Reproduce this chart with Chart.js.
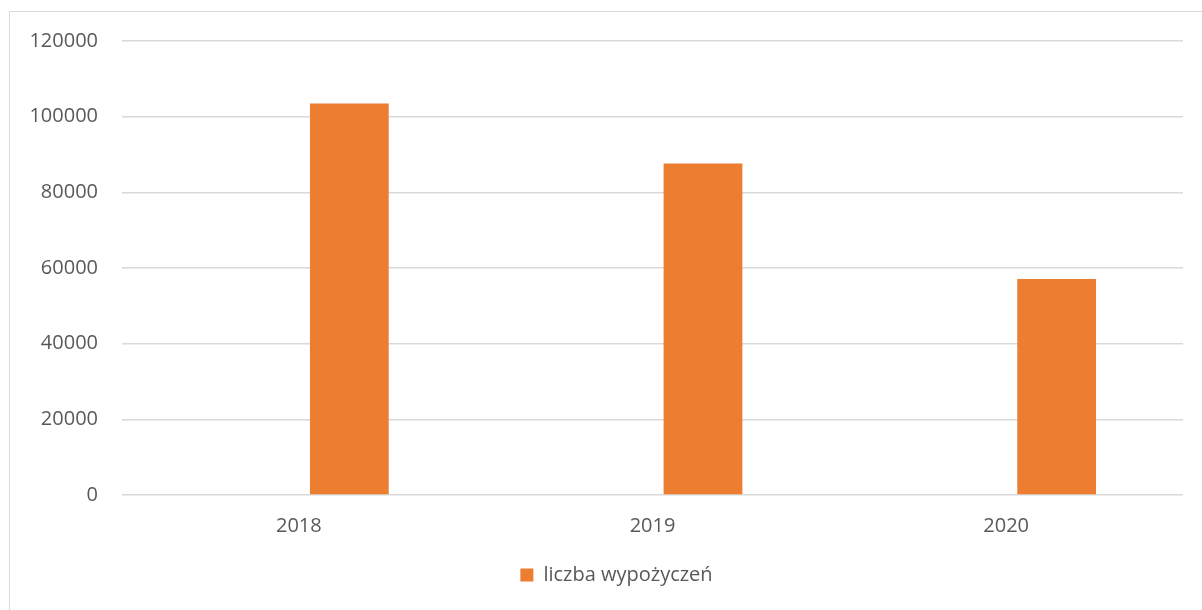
<!DOCTYPE html>
<html>
<head>
<meta charset="utf-8">
<script src="https://cdn.jsdelivr.net/npm/chart.js@4"></script>
<style>
  html, body { margin: 0; padding: 0; background: #fff; overflow: hidden; }
  #frame { position: absolute; left: 9px; top: 11px; width: 1400px; height: 800px; border: 1px solid #d9d9d9; box-sizing: border-box; }
  #wrap { position: absolute; left: 0; top: 0; width: 1202px; height: 610px; }
</style>
</head>
<body>
<div id="frame"></div>
<div id="wrap"><canvas id="c" width="1202" height="610"></canvas></div>
<script>
const categories = ['2018', '2019', '2020'];
const hiddenSeries = [null, null, null];
const loans = [103500, 87600, 57100];
const seriesName = 'liczba wypożyczeń';
const yTicks = [0, 20000, 40000, 60000, 80000, 100000, 120000];

const FONT = "'Open Sans', sans-serif";
const TXT = '#595959';

const shiftLegend = {
  id: 'shiftLegend',
  afterLayout(chart) {
    const lg = chart.legend;
    if (lg) { lg.left += 25; lg.right += 25; }
  }
};

new Chart(document.getElementById('c'), {
  type: 'bar',
  data: {
    labels: categories,
    datasets: [
      { label: '', data: hiddenSeries, backgroundColor: 'rgba(0,0,0,0)' },
      { label: seriesName, data: loans, backgroundColor: '#ED7D31', borderWidth: 0 }
    ]
  },
  plugins: [shiftLegend],
  options: {
    responsive: false,
    animation: false,
    devicePixelRatio: 1,
    layout: { padding: { left: 0, right: 19, top: 41, bottom: 15 } },
    datasets: { bar: { categoryPercentage: 0.571, barPercentage: 0.78 } },
    plugins: {
      tooltip: { enabled: false },
      legend: {
        position: 'bottom',
        labels: {
          filter: (item) => item.text !== '',
          boxWidth: 13, boxHeight: 13,
          color: TXT,
          font: { family: FONT, size: 20 },
          padding: 14
        }
      }
    },
    scales: {
      x: {
        grid: { display: false },
        border: { display: false },
        ticks: { color: TXT, font: { family: FONT, size: 20 }, padding: 11 },
        afterFit: (s) => { s.height = 56; }
      },
      y: {
        min: 0, max: 120000,
        afterBuildTicks: (s) => { s.ticks = yTicks.map(v => ({ value: v })); },
        grid: { color: '#d9d9d9', lineWidth: 1.5, drawTicks: false },
        border: { display: false },
        ticks: { color: TXT, font: { family: FONT, size: 20 }, padding: 24, callback: (v) => String(v) },
        afterFit: (s) => { s.width = 122; }
      }
    }
  }
});
</script>
</body>
</html>
